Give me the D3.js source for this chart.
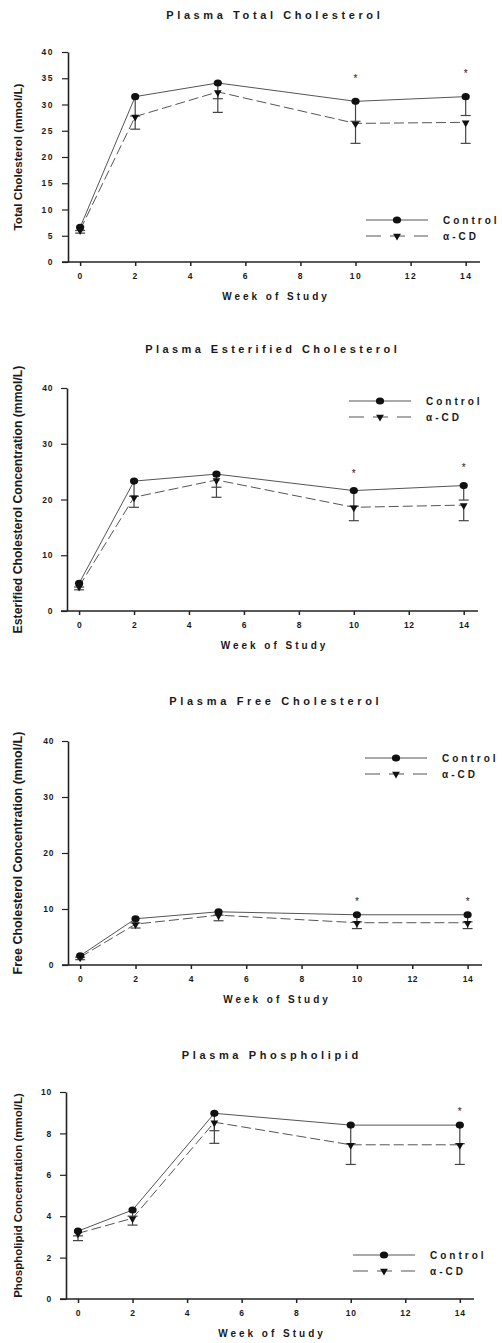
<!DOCTYPE html>
<meta charset="utf-8">
<style>
body { margin: 0; background: #fff; }
svg text { font-family: "Liberation Sans", Arial, sans-serif; fill: #1a1a1a; }
.title { font-size: 11px; font-weight: bold; }
.xlabel, .legend text { font-size: 10px; font-weight: bold; letter-spacing: 3px; }
.ylabel { font-size: 10.5px; font-weight: bold; }
.tick text { font-size: 8.5px; font-weight: bold; }
.domain, .tick line { stroke: #222; }
.domain { stroke-width: 1.6px; }
.ctl { fill: none; stroke: #555; stroke-width: 1px; }
.acd { fill: none; stroke: #555; stroke-width: 1px; stroke-dasharray: 10,4; }
.err { stroke: #444; stroke-width: 1.2px; }
.star { font-size: 10px; fill: #222; }
</style>
<svg width="502" height="1343"></svg>
<script src="https://cdn.jsdelivr.net/npm/d3@7"></script>
<script>
// weeks sampled
var weeks = [0, 2, 5, 10, 14];
var xTicks = [0, 2, 4, 6, 8, 10, 12, 14];
var seriesNames = ["Control", "\u03b1-CD"];

// Plasma Total Cholesterol (mmol/L); error bars drawn down to the "low" value
var totalControl    = [6.6, 31.5, 34.1, 30.6, 31.5];
var totalControlLow = [6.0, 27.8, 31.1, 26.8, 27.9];
var totalAcd        = [6.1, 27.7, 32.4, 26.4, 26.6];
var totalAcdLow     = [5.5, 25.3, 28.5, 22.6, 22.6];
var totalStars      = [[10, 35.4], [14, 36.3]];

// Plasma Esterified Cholesterol
var estControl    = [4.96, 23.3, 24.55, 21.6, 22.5];
var estControlLow = [4.3, 20.6, 22.2, 18.8, 19.9];
var estAcd        = [4.4, 20.4, 23.5, 18.6, 19.0];
var estAcdLow     = [3.8, 18.6, 20.4, 16.2, 16.2];
var estStars      = [[10, 25.2], [14, 26.2]];

// Plasma Free Cholesterol
var freeControl    = [1.66, 8.26, 9.5, 8.97, 8.97];
var freeControlLow = [1.4, 7.5, 8.9, 7.7, 7.7];
var freeAcd        = [1.4, 7.3, 8.9, 7.55, 7.55];
var freeAcdLow     = [0.95, 6.6, 7.9, 6.5, 6.5];
var freeStars      = [[10, 11.7], [14, 11.7]];

// Plasma Phospholipid
var phosControl    = [3.28, 4.3, 8.97, 8.4, 8.4];
var phosControlLow = [3.05, 4.0, 8.13, 7.5, 7.5];
var phosAcd        = [3.17, 3.9, 8.54, 7.45, 7.45];
var phosAcdLow     = [2.82, 3.57, 7.52, 6.5, 6.5];
var phosStars      = [[14, 9.16]];

var panels = [
  {title: "Plasma Total Cholesterol", ylab: "Total Cholesterol (mmol/L)",
   ctl: totalControl, ctlLow: totalControlLow, acd: totalAcd, acdLow: totalAcdLow, stars: totalStars,
   ymax: 40, ystep: 5, left: 68, right: 480, top: 52, bottom: 262,
   titleY: 19, titleX: 273, titleLen: 217, ylabLen: 147, tickLS: 1.5, legX: 366, legY: 220},
  {title: "Plasma Esterified Cholesterol", ylab: "Esterified Cholesterol Concentration (mmol/L)",
   ctl: estControl, ctlLow: estControlLow, acd: estAcd, acdLow: estAcdLow, stars: estStars,
   ymax: 40, ystep: 10, left: 67, right: 478, top: 388, bottom: 611,
   titleY: 353, titleX: 271, titleLen: 255, ylabLen: 268, tickLS: 0.6, legX: 349, legY: 401},
  {title: "Plasma Free Cholesterol", ylab: "Free Cholesterol Concentration (mmol/L)",
   ctl: freeControl, ctlLow: freeControlLow, acd: freeAcd, acdLow: freeAcdLow, stars: freeStars,
   ymax: 40, ystep: 10, left: 68, right: 482, top: 741, bottom: 965,
   titleY: 705, titleX: 274, titleLen: 213, ylabLen: 243, tickLS: 0.6, legX: 365, legY: 758},
  {title: "Plasma Phospholipid", ylab: "Phospholipid Concentration (mmol/L)",
   ctl: phosControl, ctlLow: phosControlLow, acd: phosAcd, acdLow: phosAcdLow, stars: phosStars,
   ymax: 10, ystep: 2, left: 66, right: 474, top: 1092, bottom: 1299,
   titleY: 1059, titleX: 270, titleLen: 180, ylabLen: 205, tickLS: 0.8, legX: 353, legY: 1255}
];

var svg = d3.select("svg");
var circle = d3.symbol().type(d3.symbolCircle).size(40);
var tri = d3.symbol().type(d3.symbolTriangle).size(26);

panels.forEach(function(p) {
  var x = d3.scaleLinear().domain([-0.44, 14.52]).range([p.left, p.right]);
  var y = d3.scaleLinear().domain([0, p.ymax]).range([p.bottom, p.top]);
  var mid = (p.left + p.right) / 2;

  // title: widen with letter spacing to the reference width
  var t = svg.append("text").attr("class", "title")
      .attr("x", p.titleX).attr("y", p.titleY)
      .attr("text-anchor", "middle").text(p.title);
  var w0 = t.node().getComputedTextLength();
  var ls = (p.titleLen - w0) / p.title.length;
  t.style("letter-spacing", ls + "px").attr("x", p.titleX + ls / 2);

  // y label: scale font size to the reference length
  var yl = svg.append("text").attr("class", "ylabel")
      .attr("transform", "translate(22," + ((p.top + p.bottom) / 2) + ") rotate(-90)")
      .attr("text-anchor", "middle").text(p.ylab);
  var lw = yl.node().getComputedTextLength();
  yl.style("font-size", (10.5 * p.ylabLen / lw) + "px");

  var ax = svg.append("g")
      .attr("transform", "translate(0," + p.bottom + ")")
      .call(d3.axisBottom(x).tickValues(xTicks).tickSize(4).tickSizeOuter(0).tickPadding(7));
  var ay = svg.append("g")
      .attr("transform", "translate(" + p.left + ",0)")
      .call(d3.axisLeft(y).tickValues(d3.range(0, p.ymax + 0.001, p.ystep)).tickSize(6).tickSizeOuter(0).tickPadding(8));
  ax.select(".domain").attr("d", "M" + (p.left - 6) + ",0H" + p.right);
  ax.selectAll(".tick text").style("letter-spacing", p.tickLS + "px");
  ay.selectAll(".tick text").style("letter-spacing", p.tickLS + "px");
  ax.selectAll(".tick line").attr("stroke-width", 1.5);
  ay.selectAll(".tick line").attr("stroke-width", 1.2);

  svg.append("text").attr("class", "xlabel")
      .attr("x", mid + 2).attr("y", p.bottom + 38)
      .attr("text-anchor", "middle").text("Week of Study");

  var g = svg.append("g");
  var ctl = weeks.map(function(w, i) { return {w: w, v: p.ctl[i], lo: p.ctlLow[i]}; });
  var acd = weeks.map(function(w, i) { return {w: w, v: p.acd[i], lo: p.acdLow[i]}; });
  var line = d3.line().x(function(d) { return x(d.w); }).y(function(d) { return y(d.v); });

  // error bars (downward only)
  [ctl, acd].forEach(function(s) {
    var e = g.selectAll(null).data(s).enter().append("g").attr("class", "err");
    e.append("line")
        .attr("x1", function(d) { return x(d.w); }).attr("x2", function(d) { return x(d.w); })
        .attr("y1", function(d) { return y(d.v); }).attr("y2", function(d) { return y(d.lo); });
    e.append("line")
        .attr("x1", function(d) { return x(d.w) - 5; }).attr("x2", function(d) { return x(d.w) + 5; })
        .attr("y1", function(d) { return y(d.lo); }).attr("y2", function(d) { return y(d.lo); });
  });

  g.append("path").attr("class", "acd").attr("d", line(acd));
  g.append("path").attr("class", "ctl").attr("d", line(ctl));

  g.selectAll(null).data(acd).enter().append("path")
      .attr("d", tri)
      .attr("fill", "#111")
      .attr("transform", function(d) { return "translate(" + x(d.w) + "," + (y(d.v) + 0.5) + ") rotate(180)"; });
  g.selectAll(null).data(ctl).enter().append("path")
      .attr("d", circle)
      .attr("fill", "#111")
      .attr("transform", function(d) { return "translate(" + x(d.w) + "," + y(d.v) + ") scale(1.15,1)"; });

  g.selectAll(null).data(p.stars).enter().append("text")
      .attr("class", "star")
      .attr("x", function(d) { return x(d[0]); })
      .attr("y", function(d) { return y(d[1]); })
      .attr("dy", "0.6em")
      .attr("text-anchor", "middle")
      .text("*");

  // legend
  var leg = svg.append("g").attr("class", "legend");
  [0, 1].forEach(function(i) {
    var ly = p.legY + i * 16;
    leg.append("line")
        .attr("x1", p.legX).attr("x2", p.legX + 62)
        .attr("y1", ly).attr("y2", ly)
        .attr("class", i === 0 ? "ctl" : "acd")
        .style("stroke-dasharray", i === 0 ? null : "15,9");
    leg.append("path")
        .attr("d", i === 0 ? circle : tri)
        .attr("fill", "#111")
        .attr("transform", "translate(" + (p.legX + 31) + "," + ly + ")" + (i === 0 ? " scale(1.15,1)" : " rotate(180)"));
    leg.append("text")
        .attr("x", p.legX + 77).attr("y", ly).attr("dy", "0.35em")
        .text(seriesNames[i]);
  });
});
</script>
